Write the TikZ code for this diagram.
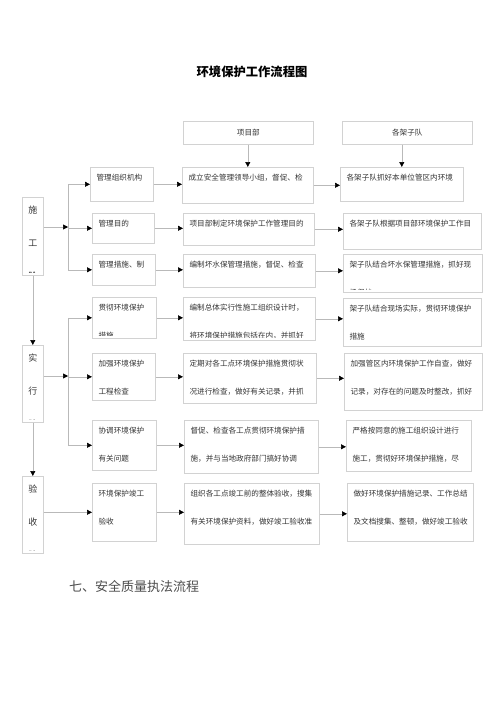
\documentclass[tikz,border=0pt]{standalone}
\usepackage{fontspec}
\setmainfont{Noto Sans CJK SC}
\usetikzlibrary{arrows.meta}
\tikzstyle{box}=[draw=gray!35, line width=0.6pt, anchor=north west, inner sep=0pt]
\tikzstyle{txt}=[draw=none, fill=none, anchor=north west, align=left, inner sep=0pt, minimum width=0pt, minimum height=0pt, text=black!80, font=\fontsize{7.6}{28}\selectfont]
\tikzstyle{arr}=[draw=gray!55, line width=0.6pt, -{Triangle[length=5pt,width=5pt,black]}]
\tikzstyle{bus}=[draw=gray!55, line width=0.6pt]
\tikzset{words/.style={path picture={
  \clip ([shift={(2pt,-2pt)}]path picture bounding box.north west) rectangle ([shift={(-2pt,3pt)}]path picture bounding box.south east);
  \node[txt] at ([shift={(6pt,-6.5pt)}]path picture bounding box.north west) {#1};}}}
\tikzset{upright/.style={path picture={
  \clip ([shift={(1pt,-2pt)}]path picture bounding box.north west) rectangle ([shift={(-1pt,3pt)}]path picture bounding box.south east);
  \node[txt, anchor=north, align=center, font=\fontsize{9}{33}\selectfont] at ([yshift=-8pt]path picture bounding box.north) {#1};}}}

\begin{document}
\begin{tikzpicture}[x=1pt, y=-1pt]
\useasboundingbox (0,0) rectangle (500,707);
\node[font=\bfseries\fontsize{12.3}{14}\selectfont] at (252,72) (title) {环境保护工作流程图};
% top
\node[box, minimum width=130, minimum height=23, text=black!80, font=\fontsize{7.6}{9}\selectfont] at (183,121) (xmb) {项目部};
\node[box, minimum width=130, minimum height=23, text=black!80, font=\fontsize{7.6}{9}\selectfont] at (342,121) (jzd) {各架子队};
% stages
\node[box, minimum width=21, minimum height=78, upright={施\\工\\阶}] at (22,197) (sg) {};
\node[box, minimum width=21, minimum height=77, upright={实\\行\\阶}] at (22,345) (sx) {};
\node[box, minimum width=21, minimum height=77, upright={验\\收\\阶}] at (22,476) (ys) {};
% rows
\node[box, minimum width=63, minimum height=34, words={管理组织机构}] at (90,167) (a1) {};
\node[box, minimum width=131, minimum height=36, words={成立安全管理领导小组，督促、检}] at (182,167) (b1) {};
\node[box, minimum width=123, minimum height=34, words={各架子队抓好本单位管区内环境}] at (340,167) (c1) {};
\node[box, minimum width=62, minimum height=30, words={管理目的}] at (92,213) (a2) {};
\node[box, minimum width=131, minimum height=32, words={项目部制定环境保护工作管理目的}] at (183,213) (b2) {};
\node[box, minimum width=138, minimum height=36, words={各架子队根据项目部环境保护工作目}] at (343,213) (c2) {};
\node[box, minimum width=63, minimum height=31, words={管理措施、制}] at (92,254) (a3) {};
\node[box, minimum width=132, minimum height=33, words={编制坏水保管理措施，督促、检查}] at (183,254) (b3) {};
\node[box, minimum width=139, minimum height=38, words={架子队结合坏水保管理措施，抓好现\\场保护}] at (343,254) (c3) {};
\node[box, minimum width=64, minimum height=41, words={贯彻环境保护\\措施}] at (92,297) (a4) {};
\node[box, minimum width=132, minimum height=43, words={编制总体实行性施工组织设计时，\\将环境保护措施包括在内，并抓好}] at (183,297) (b4) {};
\node[box, minimum width=138, minimum height=48, words={架子队结合现场实际，贯彻环境保护\\措施}] at (343,298) (c4) {};
\node[box, minimum width=63, minimum height=47, words={加强环境保护\\工程检查}] at (92,353) (a5) {};
\node[box, minimum width=133, minimum height=50, words={定期对各工点环境保护措施贯彻状\\况进行检查，做好有关记录，并抓}] at (183,353) (b5) {};
\node[box, minimum width=138, minimum height=57, words={加强管区内环境保护工作自查，做好\\记录，对存在的问题及时整改，抓好}] at (344,353) (c5) {};
\node[box, minimum width=64, minimum height=50, words={协调环境保护\\有关问题}] at (92,420) (a6) {};
\node[box, minimum width=134, minimum height=53, words={督促、检查各工点贯彻环境保护措\\施，并与当地政府部门搞好协调}] at (184,420) (b6) {};
\node[box, minimum width=125, minimum height=51, words={严格按同意的施工组织设计进行\\施工，贯彻好环境保护措施，尽}] at (346,420) (c6) {};
\node[box, minimum width=64, minimum height=58, words={环境保护竣工\\验收}] at (92,483) (a7) {};
\node[box, minimum width=135, minimum height=61, words={组织各工点竣工前的整体验收，搜集\\有关环境保护资料，做好竣工验收准}] at (184,483) (b7) {};
\node[box, minimum width=126, minimum height=58, words={做好环境保护措施记录、工作总结\\及文档搜集、整顿，做好竣工验收}] at (347,483) (c7) {};
% heading
\node[text=black!70, font=\fontsize{13}{15}\selectfont] at (134,587) (next) {七、安全质量执法流程};
% connectors
\coordinate (bus1) at (68,227);
\coordinate (bus2) at (68,376);
\draw[arr] (xmb.south -| b1.north) -- (b1.north);
\draw[arr] (jzd.south -| c1.north) -- (c1.north);
\draw[arr] (sg.east |- bus1) -- (bus1);
\draw[bus] (bus1 |- a1.west) -- (bus1 |- a3.west);
\draw[arr] (bus1 |- a1.west) -- (a1.west);
\draw[arr] (bus1 |- a2.west) -- (a2.west);
\draw[arr] (bus1 |- a3.west) -- (a3.west);
\draw[arr] (sx.east |- bus2) -- (bus2);
\draw[bus] (bus2 |- a4.west) -- (bus2 |- a6.west);
\draw[arr] (bus2 |- a4.west) -- (a4.west);
\draw[arr] (bus2 |- a5.west) -- (a5.west);
\draw[arr] (bus2 |- a6.west) -- (a6.west);
\draw[arr] (ys.east |- a7.west) -- (a7.west);
\draw[arr] (sg.south) -- (sx.north);
\draw[arr] (sx.south) -- (ys.north);
\foreach \r in {1,...,7} {
  \draw[arr] (a\r.east) -- (a\r.east -| b\r.west);
  \draw[arr] (b\r.east) -- (b\r.east -| c\r.west);
}
\end{tikzpicture}
\end{document}
